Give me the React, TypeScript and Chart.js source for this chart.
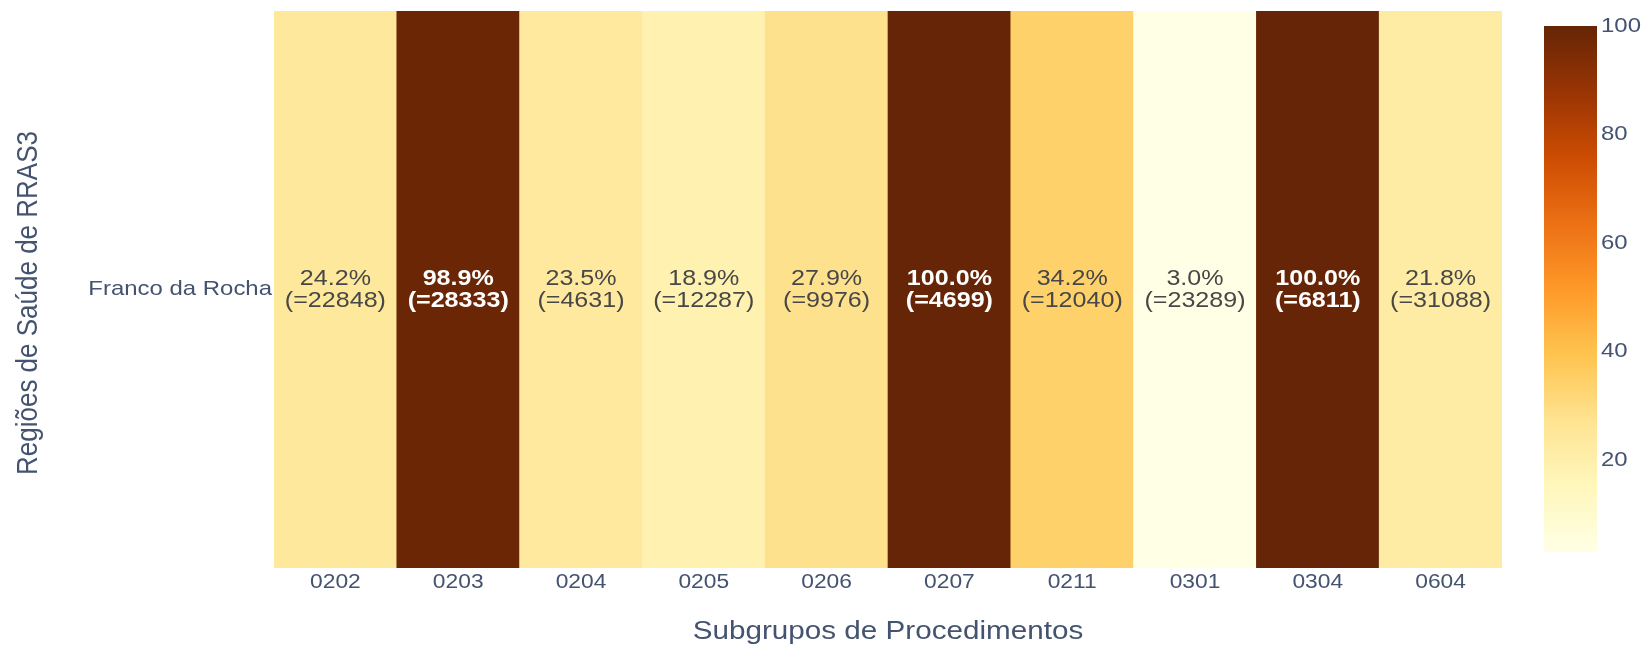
import React, { useEffect, useRef } from 'react';
import { Chart, registerables } from 'chart.js';
Chart.register(...registerables);

const categories = ['0202', '0203', '0204', '0205', '0206', '0207', '0211', '0301', '0304', '0604'];
const region = 'Franco da Rocha';
const percentages = [24.2, 98.9, 23.5, 18.9, 27.9, 100.0, 34.2, 3.0, 100.0, 21.8];
const counts = [22848, 28333, 4631, 12287, 9976, 4699, 12040, 23289, 6811, 31088];
const colorbarTicks = [20, 40, 60, 80, 100];
const xTitle = 'Subgrupos de Procedimentos';
const yTitle = 'Regiões de Saúde de RRAS3';

const colorscale: [number, number[]][] = [
  [0, [255, 255, 229]],
  [0.125, [255, 247, 188]],
  [0.25, [254, 227, 145]],
  [0.375, [254, 196, 79]],
  [0.5, [254, 153, 41]],
  [0.625, [236, 112, 20]],
  [0.75, [204, 76, 2]],
  [0.875, [153, 52, 4]],
  [1, [102, 37, 6]],
];

const cmin = Math.min(...percentages);
const cmax = Math.max(...percentages);

function colorAt(v: number): string {
  let t = (v - cmin) / (cmax - cmin);
  t = Math.max(0, Math.min(1, t));
  for (let i = 1; i < colorscale.length; i++) {
    const [t1, c1] = colorscale[i];
    const [t0, c0] = colorscale[i - 1];
    if (t <= t1) {
      const f = (t - t0) / (t1 - t0);
      const c = c0.map((a, k) => Math.round(a + (c1[k] - a) * f));
      return `rgb(${c[0]},${c[1]},${c[2]})`;
    }
  }
  const c = colorscale[colorscale.length - 1][1];
  return `rgb(${c[0]},${c[1]},${c[2]})`;
}

const FONT = '"Liberation Sans", Arial, sans-serif';
const AXIS_COLOR = '#44536f';
const SX = 1.14;

function drawText(ctx: any, text: string, x: number, y: number, align: string, font: string, color: string, rotate = 0) {
  ctx.save();
  ctx.translate(x, y);
  if (rotate) ctx.rotate(rotate);
  ctx.scale(rotate ? 1 : SX, rotate ? SX : 1);
  ctx.font = font;
  ctx.fillStyle = color;
  ctx.textAlign = align;
  ctx.textBaseline = 'middle';
  ctx.fillText(text, 0, 0);
  ctx.restore();
}

const cellTextPlugin = {
  id: 'cellText',
  afterDatasetsDraw(chart: any) {
    const ctx = chart.ctx;
    const meta = chart.getDatasetMeta(0);
    const area = chart.chartArea;
    const cy = (area.top + area.bottom) / 2;
    meta.data.forEach((bar: any, i: number) => {
      const v = percentages[i];
      const dark = (v - cmin) / (cmax - cmin) > 0.6;
      const color = dark ? '#ffffff' : '#474747';
      const font = `${dark ? 'bold ' : ''}22px ${FONT}`;
      drawText(ctx, `${v.toFixed(1)}%`, bar.x, cy - 11, 'center', font, color);
      drawText(ctx, `(=${counts[i]})`, bar.x, cy + 11, 'center', font, color);
    });
  },
};

const axisTextPlugin = {
  id: 'axisText',
  afterDraw(chart: any) {
    const ctx = chart.ctx;
    const area = chart.chartArea;
    const xs = chart.scales.x;
    const ys = chart.scales.y;
    const tickFont = `20px ${FONT}`;
    categories.forEach((c, i) => {
      drawText(ctx, c, xs.getPixelForTick(i), area.bottom + 14, 'center', tickFont, AXIS_COLOR);
    });
    drawText(ctx, region, ys.right - 2, ys.getPixelForValue(0.5), 'right', `21px ${FONT}`, AXIS_COLOR);
    drawText(ctx, xTitle, (area.left + area.right) / 2, 632, 'center', `26px ${FONT}`, AXIS_COLOR);
    drawText(ctx, yTitle, 29, 303, 'center', `26px ${FONT}`, AXIS_COLOR, -Math.PI / 2);
  },
};

const colorbarPlugin = {
  id: 'colorbar',
  afterDraw(chart: any) {
    const ctx = chart.ctx;
    const x0 = 1544, x1 = 1597, yTop = 26, yBot = 552;
    const grad = ctx.createLinearGradient(0, yBot, 0, yTop);
    colorscale.forEach(([t, c]) => grad.addColorStop(t, `rgb(${c[0]},${c[1]},${c[2]})`));
    ctx.save();
    ctx.fillStyle = grad;
    ctx.fillRect(x0, yTop, x1 - x0, yBot - yTop);
    ctx.restore();
    colorbarTicks.forEach((v) => {
      const y = yBot - ((v - cmin) / (cmax - cmin)) * (yBot - yTop);
      drawText(ctx, String(v), x1 + 4, y, 'left', `21px ${FONT}`, AXIS_COLOR);
    });
  },
};

export default function App() {
  const ref = useRef<HTMLCanvasElement | null>(null);
  useEffect(() => {
    if (!ref.current) return;
    const chart = new Chart(ref.current, {
      type: 'bar',
      data: {
        labels: categories,
        datasets: [
          {
            label: region,
            data: categories.map(() => 1),
            backgroundColor: percentages.map(colorAt),
            borderWidth: 0,
            barPercentage: 1,
            categoryPercentage: 1,
          },
        ],
      },
      options: {
        responsive: false,
        animation: false,
        layout: { padding: { left: 0, top: 11, right: 145, bottom: 0 } },
        plugins: { legend: { display: false }, tooltip: { enabled: false } },
        scales: {
          x: {
            grid: { display: false, drawTicks: false },
            border: { display: false },
            ticks: { display: false },
            title: { display: false, text: xTitle },
            afterFit(scale: any) {
              scale.height = 77;
            },
          },
          y: {
            min: 0,
            max: 1,
            grid: { display: false, drawTicks: false },
            border: { display: false },
            afterBuildTicks(scale: any) {
              scale.ticks = [{ value: 0.5 }];
            },
            ticks: { display: false, callback: () => region },
            title: { display: false, text: yTitle },
            afterFit(scale: any) {
              scale.width = 274;
            },
          },
        },
      },
      plugins: [cellTextPlugin, axisTextPlugin, colorbarPlugin],
    });
    return () => chart.destroy();
  }, []);
  return (
    <div style={{ position: 'fixed', left: 0, top: 0, width: 1647, height: 645, background: '#fff' }}>
      <canvas ref={ref} width={1647} height={645} style={{ display: 'block' }} />
    </div>
  );
}
